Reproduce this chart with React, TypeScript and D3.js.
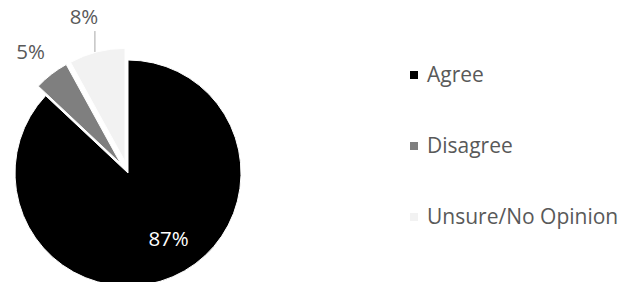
import { useEffect, useRef } from "react";
import * as d3 from "d3";

const categories = ["Agree", "Disagree", "Unsure/No Opinion"];
const values = [87, 5, 8];
const colors = ["#000000", "#7f7f7f", "#f2f2f2"];
const explode = [0, 12, 12];

const W = 634;
const H = 282;
const FONT = "'Open Sans', sans-serif";

type Slice = d3.PieArcDatum<number>;

export default function App() {
  const ref = useRef<SVGSVGElement | null>(null);

  useEffect(() => {
    if (!ref.current) return;
    const svg = d3.select(ref.current);
    svg.selectAll("*").remove();

    const cx = 128;
    const cy = 173;
    const r = 113;

    const pie = d3.pie<number>().sort(null).value((d) => d);
    const arcs = pie(values);
    const arc = d3.arc<Slice>().innerRadius(0).outerRadius(r);

    // unit vector pointing through the middle of a slice
    const dir = (d: Slice) => {
      const a = (d.startAngle + d.endAngle) / 2;
      return [Math.sin(a), -Math.cos(a)];
    };

    const g = svg.append("g").attr("transform", `translate(${cx},${cy})`);

    g.selectAll("path")
      .data(arcs)
      .join("path")
      .attr("d", arc)
      .attr("fill", (_, i) => colors[i])
      .attr("stroke", "#ffffff")
      .attr("stroke-width", 1)
      .attr("transform", (d, i) => {
        const [ux, uy] = dir(d);
        return `translate(${ux * explode[i]},${uy * explode[i]})`;
      });

    // inside label for the big slice, outside labels for the small ones
    const labelR = [77, 154, 161];
    const labelDx = [10, -3, -4];
    const labelDy = [-5, 0, 0];
    g.selectAll("text.lbl")
      .data(arcs)
      .join("text")
      .attr("class", "lbl")
      .attr("x", (d, i) => dir(d)[0] * labelR[i] + labelDx[i])
      .attr("y", (d, i) => dir(d)[1] * labelR[i] + labelDy[i])
      .attr("dy", "0.35em")
      .attr("text-anchor", "middle")
      .attr("font-family", FONT)
      .attr("font-size", 20.5)
      .attr("fill", (_, i) => (i === 0 ? "#ffffff" : "#595959"))
      .text((d) => `${d.data}%`);

    // leader line for the 8% label
    const u = arcs[2];
    const [ux, uy] = dir(u);
    const edge = r + explode[2];
    const lx = ux * edge - 2;
    const ly = uy * edge;
    g.append("line")
      .attr("x1", lx)
      .attr("y1", ly)
      .attr("x2", lx)
      .attr("y2", uy * labelR[2] + 14)
      .attr("stroke", "#a6a6a6")
      .attr("stroke-width", 1);

    // legend
    const ly0 = 75;
    const step = 71;
    const lg = svg.append("g").attr("transform", "translate(410,0)");
    const items = lg
      .selectAll("g")
      .data(categories)
      .join("g")
      .attr("transform", (_, i) => `translate(0,${ly0 + i * step})`);
    items
      .append("rect")
      .attr("x", 0)
      .attr("y", -4)
      .attr("width", 8)
      .attr("height", 8)
      .attr("fill", (_, i) => colors[i]);
    items
      .append("text")
      .attr("x", 17)
      .attr("dy", "0.35em")
      .attr("font-family", FONT)
      .attr("font-size", 21)
      .attr("fill", "#595959")
      .text((d) => d);
  }, []);

  return (
    <svg
      ref={ref}
      width={W}
      height={H}
      style={{ position: "absolute", left: 0, top: 0, background: "#fff" }}
    />
  );
}
